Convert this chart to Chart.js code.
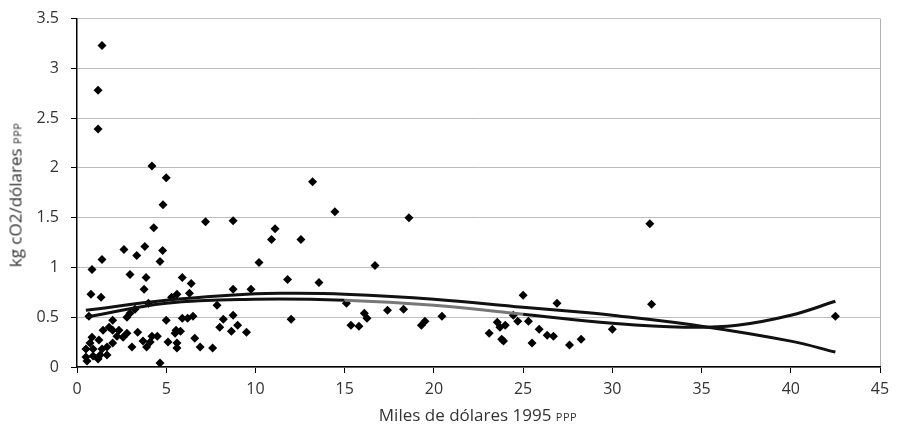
<!DOCTYPE html>
<html>
<head>
<meta charset="utf-8">
<script src="https://cdn.jsdelivr.net/npm/chart.js@4"></script>
<style>
  body { margin: 0; background: #fff; }
  #wrap { position: relative; width: 898px; height: 433px; overflow: hidden; }
  #chart { position: absolute; left: 0; top: -3px; }
  .axis-title { position: absolute; font-family: "Open Sans", sans-serif; font-size: 17px; color: #333; white-space: nowrap; }
  .axis-title small { font-size: 11px; letter-spacing: 0.5px; }
  #yTitle { left: 15px; top: 195px; transform: translate(-50%, -50%) rotate(-90deg); }
  #xTitle { left: 478px; top: 414px; transform: translate(-50%, -50%); }
</style>
</head>
<body>
<div id="wrap">
  <canvas id="chart" width="898" height="436"></canvas>
  <div class="axis-title" id="yTitle">kg cO2/dólares <small>PPP</small></div>
  <div class="axis-title" id="xTitle">Miles de dólares 1995 <small>PPP</small></div>
</div>
<script>
// scatter: income (thousand 1995 PPP $) vs kg CO2 per PPP $
const incomeX = [
  1.4, 1.18, 1.18, 4.2, 5.0, 4.82, 4.3,
  7.2, 8.75, 11.1, 10.9, 10.2, 11.8,
  13.2, 14.45, 18.6, 12.55, 16.7, 13.56,
  2.63, 3.8, 3.35, 4.8, 1.4, 4.65, 0.84, 2.97, 3.87, 3.76, 0.78, 1.35,
  5.9, 6.4, 5.6, 6.3, 5.3, 8.75, 9.75, 7.85,
  0.67, 2.97, 3.25, 2.8, 4.0, 2.0, 1.8, 2.0, 2.35, 1.46, 2.24, 2.58, 2.8, 3.4,
  0.84, 0.73, 1.23, 0.5, 0.9, 1.4, 1.68, 2.0, 3.08, 3.7, 4.1, 4.2, 3.9,
  0.5, 0.9, 1.3, 1.68, 0.56, 1.18, 4.65, 5.0, 5.1, 5.55, 5.6, 4.5,
  5.9, 6.2, 6.5, 8.75, 8.2, 12.0, 8.0, 9.0, 8.65, 9.5, 5.8, 5.5, 6.6, 5.6, 6.9, 7.6,
  15.1, 15.35, 15.8, 16.1, 16.25, 17.4, 18.3, 19.3, 19.5, 20.45,
  23.1, 23.55, 23.7, 24.0, 23.8, 23.9, 24.45, 25.0, 24.7, 25.3, 25.5, 25.9,
  26.35, 26.7, 26.9, 27.6, 28.25, 30.0, 32.1, 32.2, 42.5
];
const co2Y = [
  3.23, 2.78, 2.39, 2.02, 1.90, 1.63, 1.40,
  1.46, 1.47, 1.39, 1.28, 1.05, 0.88,
  1.86, 1.56, 1.50, 1.28, 1.02, 0.85,
  1.18, 1.21, 1.12, 1.17, 1.08, 1.06, 0.98, 0.93, 0.90, 0.78, 0.73, 0.70,
  0.90, 0.84, 0.73, 0.74, 0.70, 0.78, 0.78, 0.62,
  0.51, 0.54, 0.58, 0.50, 0.64, 0.47, 0.40, 0.37, 0.37, 0.37, 0.31, 0.30, 0.34, 0.35,
  0.30, 0.24, 0.27, 0.18, 0.18, 0.18, 0.20, 0.24, 0.20, 0.26, 0.25, 0.31, 0.20,
  0.10, 0.11, 0.12, 0.12, 0.06, 0.08, 0.04, 0.47, 0.25, 0.37, 0.24, 0.31,
  0.49, 0.49, 0.51, 0.52, 0.48, 0.48, 0.40, 0.42, 0.36, 0.35, 0.36, 0.34, 0.29, 0.19, 0.20, 0.19,
  0.64, 0.42, 0.41, 0.54, 0.49, 0.57, 0.58, 0.42, 0.46, 0.51,
  0.34, 0.45, 0.40, 0.42, 0.28, 0.26, 0.52, 0.72, 0.46, 0.46, 0.24, 0.38,
  0.32, 0.31, 0.64, 0.22, 0.28, 0.38, 1.44, 0.63, 0.51
];

// trend lines
const quadX = [0.5, 5, 10, 12, 15, 20, 25, 28, 30, 35, 40, 42.5];
const quadY = [0.57, 0.67, 0.735, 0.74, 0.73, 0.68, 0.60, 0.555, 0.52, 0.41, 0.26, 0.15];
const cubicX = [0.5, 5, 10, 15, 20, 25, 30, 34, 37, 40, 42.5];
const cubicY = [0.50, 0.64, 0.68, 0.67, 0.62, 0.53, 0.44, 0.40, 0.42, 0.52, 0.66];

const xTicks = [0, 5, 10, 15, 20, 25, 30, 35, 40, 45];
const yTicks = [0, 0.5, 1, 1.5, 2, 2.5, 3, 3.5];

const pts = (xs, ys) => xs.map((x, i) => ({ x: x, y: ys[i] }));
const tickFont = { family: "Open Sans", size: 16 };

new Chart(document.getElementById("chart"), {
  type: "scatter",
  data: {
    datasets: [
      {
        label: "paises",
        data: pts(incomeX, co2Y),
        pointStyle: "rectRot",
        pointRadius: 4.5,
        backgroundColor: "#000",
        borderColor: "#000",
        borderWidth: 0,
        order: 2,
      },
      {
        label: "cuadratica",
        data: pts(quadX, quadY),
        showLine: true,
        pointRadius: 0,
        borderColor: "#111",
        borderWidth: 3,
        tension: 0.4,
        order: 1,
      },
      {
        label: "cubica",
        data: pts(cubicX, cubicY),
        showLine: true,
        pointRadius: 0,
        borderColor: "#111",
        borderWidth: 3,
        tension: 0.4,
        order: 1,
        segment: {
          borderColor: (c) => (c.p0.parsed.x >= 12 && c.p1.parsed.x <= 25 ? "#777" : "#111"),
        },
      },
    ],
  },
  options: {
    responsive: false,
    animation: false,
    layout: { padding: { top: 0, right: 18, left: 0, bottom: 0 } },
    plugins: { legend: { display: false }, tooltip: { enabled: false } },
    scales: {
      x: {
        type: "linear",
        min: 0,
        max: 45,
        afterBuildTicks: (s) => { s.ticks = xTicks.map((v) => ({ value: v })); },
        afterFit: (s) => { s.height = 66; },
        ticks: { font: tickFont, color: "#333", padding: 7, callback: (v) => String(v) },
        grid: {
          color: (c) => (c.tick && c.tick.value === 45 ? "#b0b0b0" : "rgba(0,0,0,0)"),
          tickColor: "#000",
          tickLength: 6,
        },
        border: { color: "#000", width: 1.5 },
      },
      y: {
        type: "linear",
        min: 0,
        max: 3.5,
        afterBuildTicks: (s) => { s.ticks = yTicks.map((v) => ({ value: v })); },
        afterFit: (s) => { s.width = 77; },
        ticks: { font: tickFont, color: "#333", padding: 12, callback: (v) => String(v) },
        grid: { color: "#bdbdbd", tickColor: "#000", tickLength: 6 },
        border: { color: "#000", width: 1.5 },
      },
    },
  },
});
</script>
</body>
</html>
